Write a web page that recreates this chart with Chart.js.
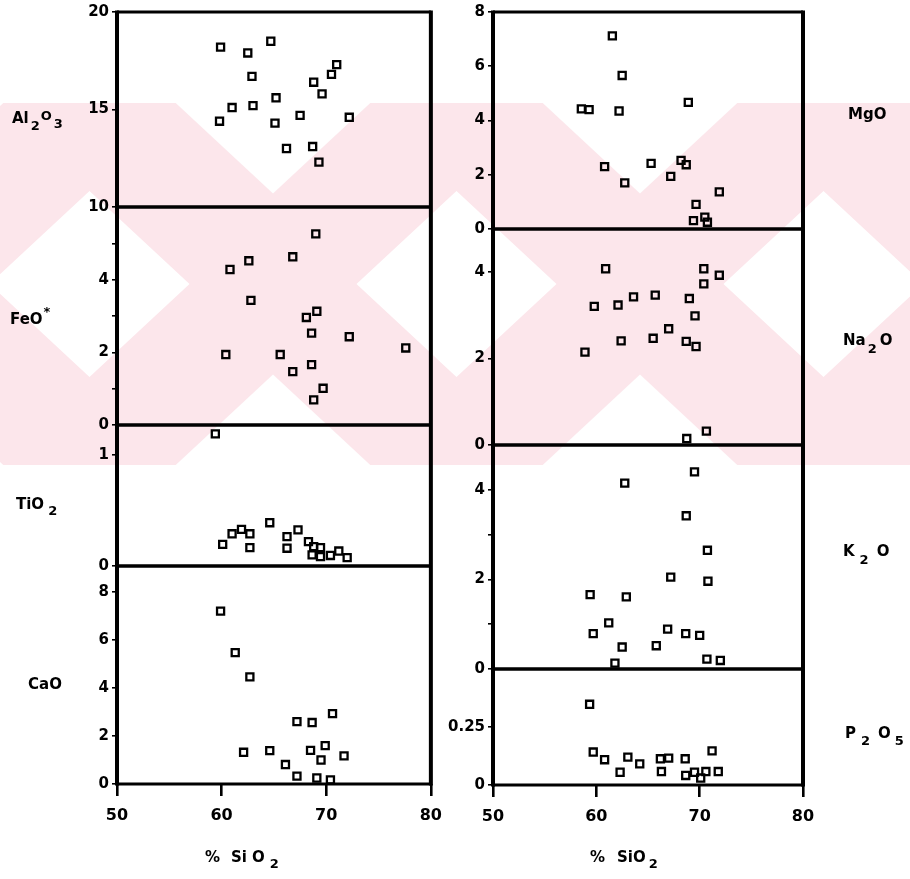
<!DOCTYPE html>
<html>
<head>
<meta charset="utf-8">
<script src="https://cdn.jsdelivr.net/npm/chart.js@4.4.1/dist/chart.umd.min.js"></script>
<style>
  html, body { margin: 0; padding: 0; background: #fff; }
  #wrap { position: relative; width: 910px; height: 879px; overflow: hidden; }
  .col { position: absolute; top: 0; }
</style>
</head>
<body>
<div id="wrap">
  <div class="col" style="left:0;width:452px;height:879px"><canvas id="cLeft" width="452" height="879"></canvas></div>
  <div class="col" style="left:440px;width:470px;height:879px"><canvas id="cRight" width="470" height="879"></canvas></div>
</div>
<script>
// ---- Harker variation diagrams: oxide wt% against % SiO2 ----

const sio2Ticks = [50, 60, 70, 80];

// Al2O3
const al2o3SiO2 = [59.9, 62.5, 64.7, 62.9, 71.0, 70.5, 68.8, 69.6, 65.2, 61.0, 63.0, 59.8, 65.1, 67.5, 72.2, 66.2, 68.7, 69.3];
const al2o3     = [18.2, 17.9, 18.5, 16.7, 17.3, 16.8, 16.4, 15.8, 15.6, 15.1, 15.2, 14.4, 14.3, 14.7, 14.6, 13.0, 13.1, 12.3];
const al2o3Ticks = [10, 15, 20];
const al2o3Labels = ['10', '15', '20'];

// FeO*
const feoSiO2 = [69.0, 66.8, 62.6, 60.8, 62.8, 69.1, 68.1, 68.6, 72.2, 77.6, 60.4, 65.6, 68.6, 66.8, 69.7, 68.8];
const feo     = [5.26, 4.63, 4.52, 4.28, 3.43, 3.13, 2.96, 2.53, 2.43, 2.12, 1.94, 1.94, 1.66, 1.47, 1.01, 0.69];
const feoTicks = [0, 1, 2, 3, 4, 5];
const feoLabels = ['0', '', '2', '', '4', ''];

// TiO2
const tio2SiO2 = [59.4, 60.1, 61.0, 61.9, 62.7, 62.7, 64.6, 66.25, 66.25, 67.3, 68.3, 68.8, 69.45, 68.65, 69.45, 70.4, 71.2, 72.0];
const tio2     = [1.19, 0.195, 0.29, 0.33, 0.29, 0.165, 0.39, 0.265, 0.16, 0.325, 0.22, 0.175, 0.165, 0.10, 0.085, 0.095, 0.135, 0.075];
const tio2Ticks = [0, 1];
const tio2Labels = ['0', '1'];

// CaO
const caoSiO2 = [59.9, 61.3, 62.7, 67.2, 68.65, 70.6, 62.1, 64.6, 68.5, 69.9, 69.5, 71.7, 66.1, 67.2, 69.1, 70.4];
const cao     = [7.2, 5.47, 4.46, 2.6, 2.56, 2.93, 1.32, 1.39, 1.4, 1.6, 1.0, 1.17, 0.81, 0.33, 0.25, 0.17];
const caoTicks = [0, 2, 4, 6, 8];
const caoLabels = ['0', '2', '4', '6', '8'];

// MgO
const mgoSiO2 = [61.55, 62.5, 68.9, 58.55, 59.3, 62.2, 60.8, 65.3, 68.2, 68.7, 62.75, 67.2, 71.9, 69.65, 69.4, 70.5, 70.75];
const mgo     = [7.12, 5.66, 4.67, 4.43, 4.40, 4.35, 2.30, 2.42, 2.53, 2.37, 1.70, 1.94, 1.37, 0.91, 0.31, 0.44, 0.25];
const mgoTicks = [0, 2, 4, 6, 8];
const mgoLabels = ['0', '2', '4', '6', '8'];

// Na2O
const na2oSiO2 = [60.9, 70.4, 71.9, 70.4, 59.8, 62.1, 63.6, 65.7, 69.0, 69.55, 67.0, 62.4, 65.5, 68.7, 69.65, 58.9, 68.75, 70.65];
const na2o     = [4.08, 4.08, 3.93, 3.73, 3.21, 3.24, 3.43, 3.47, 3.39, 2.99, 2.69, 2.41, 2.47, 2.40, 2.28, 2.15, 0.15, 0.32];
const na2oTicks = [0, 2, 4];
const na2oLabels = ['0', '2', '4'];

// K2O
const k2oSiO2 = [69.5, 62.75, 68.7, 70.75, 67.2, 70.8, 59.4, 62.9, 61.2, 59.7, 66.9, 68.65, 70.0, 62.5, 65.8, 70.7, 72.0, 61.8];
const k2o     = [4.4, 4.15, 3.42, 2.65, 2.05, 1.96, 1.66, 1.61, 1.03, 0.79, 0.89, 0.79, 0.75, 0.49, 0.52, 0.22, 0.19, 0.13];
const k2oTicks = [0, 1, 2, 3, 4];
const k2oLabels = ['0', '', '2', '', '4'];

// P2O5
const p2o5SiO2 = [59.35, 59.7, 60.8, 63.05, 64.2, 62.3, 66.2, 67.0, 66.3, 68.6, 71.2, 68.65, 69.5, 70.1, 70.6, 71.8];
const p2o5     = [0.348, 0.142, 0.109, 0.12, 0.091, 0.055, 0.113, 0.116, 0.058, 0.113, 0.147, 0.041, 0.055, 0.03, 0.058, 0.058];
const p2o5Ticks = [0, 0.25];
const p2o5Labels = ['0', '0.25'];

// ---- styling helpers ----
const FONT = '"DejaVu Sans", "Liberation Sans", sans-serif';
const TICK_FONT = { family: FONT, size: 15, weight: 'bold' };

function pairs(xs, ys) { return xs.map((x, i) => ({ x, y: ys[i] })); }

function squares(xs, ys, axis) {
  return {
    data: pairs(xs, ys), yAxisID: axis, showLine: false,
    pointStyle: 'rect', pointRadius: 5, pointHoverRadius: 5,
    pointBorderWidth: 2.3, borderColor: '#000', pointBorderColor: '#000',
    pointBackgroundColor: 'rgba(0,0,0,0)', backgroundColor: 'rgba(0,0,0,0)'
  };
}

function yPanel(min, max, ticks, labels, weight, width) {
  return {
    type: 'linear', position: 'left', stack: 'col', stackWeight: weight,
    min, max,
    afterBuildTicks: s => { s.ticks = ticks.map(v => ({ value: v })); },
    afterFit: s => { s.width = width; },
    ticks: { autoSkip: false, color: '#000', font: TICK_FONT, padding: 3,
             callback: (v, i) => labels[i] },
    grid: { drawOnChartArea: false, drawTicks: true, tickLength: 5, lineWidth: 1.6, color: '#000' },
    border: { display: false }
  };
}

function xAxis(height) {
  return {
    type: 'linear', position: 'bottom', min: 50, max: 80,
    afterBuildTicks: s => { s.ticks = sio2Ticks.map(v => ({ value: v })); },
    afterFit: s => { s.height = height; },
    ticks: { autoSkip: false, color: '#000', font: { family: FONT, size: 16, weight: 'bold' }, padding: 10 },
    grid: { drawOnChartArea: false, drawTicks: true, tickLength: 12, lineWidth: 2.6, color: '#000' },
    border: { display: false }
  };
}

// pale watermark lattice behind the plots
const WM_TOP = 103, WM_BOT = 465, WM_P = 367, WM_HX = 100, WM_HY = 93;
const watermark = {
  id: 'watermark',
  beforeDraw(chart, args, opts) {
    const ctx = chart.ctx, off = opts.offsetX, w = chart.width;
    ctx.save();
    ctx.beginPath(); ctx.rect(0, WM_TOP, w, WM_BOT - WM_TOP); ctx.clip();
    ctx.fillStyle = 'rgb(252,230,235)';
    ctx.fillRect(0, WM_TOP, w, WM_BOT - WM_TOP);
    ctx.fillStyle = '#fff';
    for (let k = -4; k <= 6; k++) {
      for (let m = -4; m <= 4; m++) {
        const s = 740.5 + k * WM_P, d = 172.5 + m * WM_P;
        const cx = (s + d) / 2 - off, cy = (s - d) / 2;
        if (cx < -200 || cx > w + 200 || cy < -200 || cy > 800) continue;
        ctx.beginPath();
        ctx.moveTo(cx, cy - WM_HY); ctx.lineTo(cx + WM_HX, cy);
        ctx.lineTo(cx, cy + WM_HY); ctx.lineTo(cx - WM_HX, cy);
        ctx.closePath(); ctx.fill();
      }
    }
    ctx.restore();
  }
};

// heavy frame around every panel
const frame = {
  id: 'frame',
  beforeDatasetsDraw(chart, args, opts) {
    const { ctx, chartArea: a } = chart;
    ctx.save();
    ctx.strokeStyle = '#000';
    ctx.lineWidth = 3;
    opts.ids.forEach(id => {
      const s = chart.scales[id];
      ctx.beginPath();
      ctx.moveTo(a.left, s.top); ctx.lineTo(a.right, s.top);
      ctx.moveTo(a.left, s.bottom); ctx.lineTo(a.right, s.bottom);
      ctx.stroke();
    });
    ctx.lineWidth = 4;
    ctx.beginPath();
    ctx.moveTo(a.left, a.top - 1.5); ctx.lineTo(a.left, a.bottom + 1.5);
    ctx.moveTo(a.right, a.top - 1.5); ctx.lineTo(a.right, a.bottom + 1.5);
    ctx.stroke();
    ctx.restore();
  }
};

// oxide names with sub/superscripts, plus the SiO2 axis title
function drawParts(ctx, parts, x, y) {
  parts.forEach(p => {
    const size = p.s ? 13 : 15;
    ctx.font = `bold ${size}px ${FONT}`;
    x += p.g || 0;
    ctx.fillText(p.t, x, y + (p.s || 0));
    x += ctx.measureText(p.t).width;
  });
}
const names = {
  id: 'names',
  afterDraw(chart, args, opts) {
    const ctx = chart.ctx;
    ctx.save();
    ctx.fillStyle = '#000';
    ctx.textBaseline = 'middle';
    ctx.textAlign = 'left';
    opts.items.forEach(it => {
      const y = chart.scales[it.axis].getPixelForValue(it.at);
      drawParts(ctx, it.parts, it.x, y);
    });
    drawParts(ctx, opts.title.parts, opts.title.x, 858);
    ctx.restore();
  }
};

function harker(canvasId, cfg) {
  return new Chart(document.getElementById(canvasId), {
    type: 'scatter',
    data: { datasets: cfg.datasets },
    options: {
      responsive: false, animation: false, events: [],
      layout: { padding: { top: 12, right: cfg.padRight, left: 0, bottom: 0 } },
      scales: cfg.scales,
      plugins: {
        legend: { display: false }, tooltip: { enabled: false },
        watermark: { offsetX: cfg.offsetX },
        frame: { ids: Object.keys(cfg.scales).filter(k => k !== 'x') },
        names: { items: cfg.names, title: cfg.title }
      }
    },
    plugins: [watermark, frame, names]
  });
}

// left column (stacked bottom to top): CaO, TiO2, FeO*, Al2O3
harker('cLeft', {
  offsetX: 0, padRight: 0,
  datasets: [
    squares(al2o3SiO2, al2o3, 'al'),
    squares(feoSiO2, feo, 'fe'),
    squares(tio2SiO2, tio2, 'ti'),
    squares(caoSiO2, cao, 'ca')
  ],
  scales: {
    ca: yPanel(0, 9.08, caoTicks, caoLabels, 218, 117),
    ti: yPanel(0, 1.27, tio2Ticks, tio2Labels, 141, 117),
    fe: yPanel(0, 6, feoTicks, feoLabels, 218, 117),
    al: yPanel(10, 20, al2o3Ticks, al2o3Labels, 195, 117),
    x: xAxis(95)
  },
  names: [
    { axis: 'al', at: 14.5, x: 12, parts: [{ t: 'Al' }, { t: '2', s: 7, g: 2 }, { t: 'O', s: -3, g: 1 }, { t: '3', s: 5, g: 2 }] },
    { axis: 'fe', at: 2.9, x: 10, parts: [{ t: 'FeO' }, { t: '*', s: -7, g: 1 }] },
    { axis: 'ti', at: 0.55, x: 16, parts: [{ t: 'TiO' }, { t: '2', s: 7, g: 4 }] },
    { axis: 'ca', at: 4.1, x: 28, parts: [{ t: 'CaO' }] }
  ],
  title: { x: 205, parts: [{ t: '%' }, { t: 'Si', g: 11 }, { t: 'O', g: 5 }, { t: '2', s: 7, g: 5 }] }
});

// right column (stacked bottom to top): P2O5, K2O, Na2O, MgO
harker('cRight', {
  offsetX: 440, padRight: 107,
  datasets: [
    squares(mgoSiO2, mgo, 'mg'),
    squares(na2oSiO2, na2o, 'na'),
    squares(k2oSiO2, k2o, 'k'),
    squares(p2o5SiO2, p2o5, 'p')
  ],
  scales: {
    p:  yPanel(0, 0.5, p2o5Ticks, p2o5Labels, 116, 53),
    k:  yPanel(0, 5, k2oTicks, k2oLabels, 224, 53),
    na: yPanel(0, 5, na2oTicks, na2oLabels, 216, 53),
    mg: yPanel(0, 8, mgoTicks, mgoLabels, 217, 53),
    x: xAxis(94)
  },
  names: [
    { axis: 'mg', at: 4.2, x: 408, parts: [{ t: 'MgO' }] },
    { axis: 'na', at: 2.4, x: 403, parts: [{ t: 'Na' }, { t: '2', s: 8, g: 2 }, { t: 'O', g: 3 }] },
    { axis: 'k',  at: 2.6, x: 403, parts: [{ t: 'K' }, { t: '2', s: 8, g: 5 }, { t: 'O', g: 8 }] },
    { axis: 'p',  at: 0.22, x: 405, parts: [{ t: 'P' }, { t: '2', s: 8, g: 5 }, { t: 'O', g: 8 }, { t: '5', s: 8, g: 4 }] }
  ],
  title: { x: 150, parts: [{ t: '%' }, { t: 'SiO', g: 12 }, { t: '2', s: 7, g: 3 }] }
});
</script>
</body>
</html>
